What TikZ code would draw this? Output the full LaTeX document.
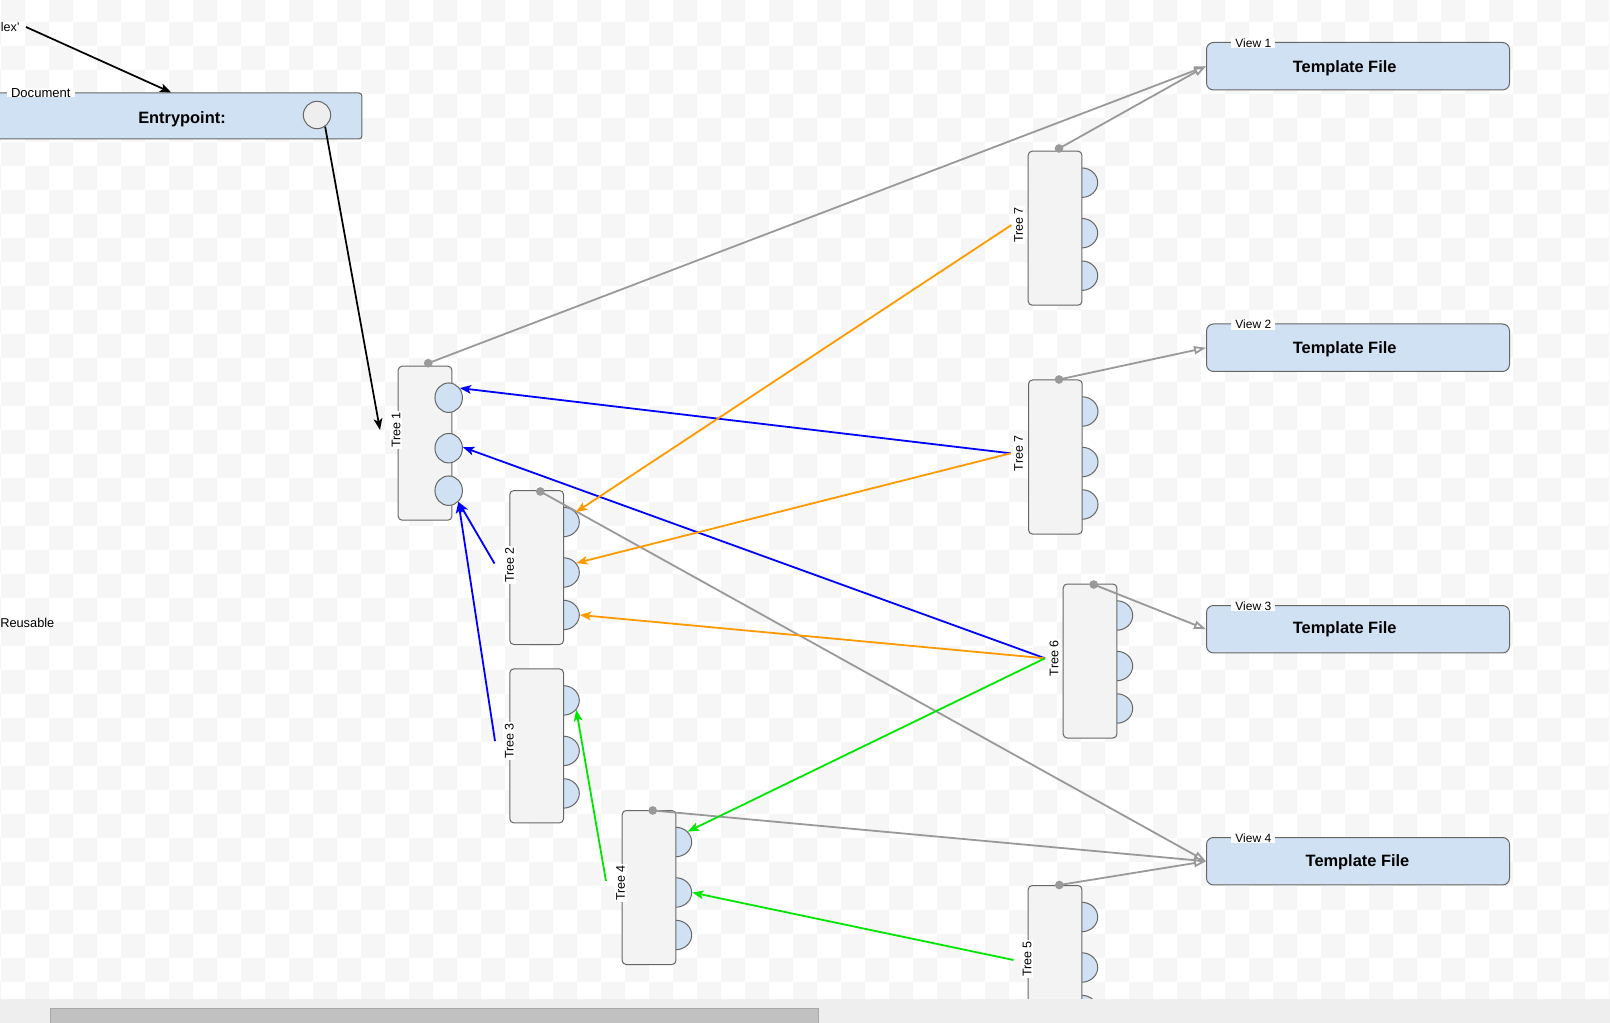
\documentclass[tikz,border=0pt]{standalone}
\usepackage{fontspec}
\setmainfont{Liberation Sans}
\usetikzlibrary{arrows.meta,shapes.geometric,calc}

\definecolor{chk}{RGB}{246,246,246}
\definecolor{edgegray}{RGB}{153,153,153}
\definecolor{boxline}{RGB}{102,102,102}
\definecolor{treefill}{RGB}{243,243,243}
\definecolor{portfill}{RGB}{207,225,242}
\definecolor{ecfill}{RGB}{238,238,238}
\definecolor{linkorange}{RGB}{255,153,0}
\definecolor{linkgreen}{RGB}{0,230,0}
\definecolor{linkblue}{RGB}{0,0,255}
\definecolor{barbg}{RGB}{238,238,238}
\definecolor{thumbfill}{RGB}{193,193,193}
\definecolor{thumbline}{RGB}{168,168,168}

\tikzset{
  treebox/.style={draw=boxline, fill=treefill, line width=0.75pt, rounded corners=3pt,
    minimum width=40.3pt, minimum height=115.5pt, inner sep=0pt, anchor=north west},
  hport/.style={ellipse, draw=boxline, fill=portfill, line width=0.75pt,
    minimum width=24pt, minimum height=22.1pt, inner sep=0pt},
  fport/.style={ellipse, draw=boxline, fill=portfill, line width=0.75pt,
    minimum width=20.6pt, minimum height=22.1pt, inner sep=0pt},
  tdot/.style={circle, fill=edgegray, minimum size=6.5pt, inner sep=0pt},
  tlab/.style={rotate=90, fill=white, inner xsep=1pt, inner ysep=1.2pt,
    font=\fontsize{9.4}{10}\selectfont},
  viewbox/.style={draw=boxline, fill=portfill, line width=0.75pt, rounded corners=5.25pt,
    minimum width=227.25pt, minimum height=35.6pt, inner sep=0pt, anchor=north west},
  viewlab/.style={fill=white, inner xsep=3pt, inner ysep=0.5pt,
    font=\fontsize{9}{10}\selectfont},
  bigtext/.style={font=\fontsize{12.3}{14}\selectfont\bfseries},
  smalltext/.style={font=\fontsize{9.6}{11}\selectfont},
  blk/.style={draw=black, line width=1.3pt, -{Stealth[length=8.5pt,width=6.5pt,inset=2pt]}},
  grlink/.style={draw=edgegray, line width=1.35pt,
    -{Triangle[open,length=9pt,width=6pt,fill=white]}},
  bllink/.style={draw=linkblue, line width=1.35pt, -{Stealth[length=8.5pt,width=6.5pt,inset=2pt]}},
  orlink/.style={draw=linkorange, line width=1.35pt, -{Stealth[length=8.5pt,width=6.5pt,inset=2pt]}},
  gnlink/.style={draw=linkgreen, line width=1.35pt, -{Stealth[length=8.5pt,width=6.5pt,inset=2pt]}},
}

% a tree container with three half-round ports on its right side
\newcommand\halftree[3]{%
  \foreach \k/\o in {1/32,2/82.5,3/125}
    \node[hport] (#1p\k) at (#2+54,#3+\o) {};
  \node[treebox] (#1) at (#2,#3) {};
}

\begin{document}
\begin{tikzpicture}[x=0.75pt,y=-0.75pt]
\useasboundingbox (0,0) rectangle (1610,1023);
\clip (0,0) rectangle (1610,1023);

% checkered canvas
\foreach \r in {0,...,42}{
  \foreach \c in {0,...,68}{
    \pgfmathtruncatemacro\pp{mod(\r+\c,2)}
    \ifnum\pp=1
      \fill[chk] (1+24*\c-24,-1.7+24*\r) rectangle (1+24*\c,22.3+24*\r);
    \fi
  }
}

% document entry
\node[anchor=west, inner sep=0pt, font=\fontsize{9.4}{10}\selectfont] (idx) at (0.5,27) {lex'};
\coordinate (idxout) at (26,27);
\node[draw=boxline, fill=portfill, line width=0.75pt, rounded corners=2.25pt,
  minimum width=286.1pt, minimum height=34.5pt, inner sep=0pt, anchor=north west] (doc) at (-20,92.5) {};
\node[fill=white, inner xsep=3pt, inner ysep=0pt, font=\fontsize{9.8}{10}\selectfont] (doclab) at (40.8,92.7) {Document};
\node[bigtext] (ept) at (182,119) {Entrypoint:};
\node[circle, draw=boxline, fill=ecfill, line width=0.75pt, minimum size=20.5pt, inner sep=0pt] (ec) at (317,115) {};
\node[smalltext, anchor=west, inner sep=0pt] (reu) at (0,623) {Reusable};

% views
\foreach \v/\t in {1/42,2/323.5,3/605,4/837}{
  \node[viewbox] (v\v) at (1206,\t) {};
  \node[viewlab] (vl\v) at (1253.3,\t+1) {View \v};
}
\node[bigtext] (tf1) at (1344.7,68) {Template File};
\node[bigtext] (tf2) at (1344.7,349.5) {Template File};
\node[bigtext] (tf3) at (1344.7,629) {Template File};
\node[bigtext] (tf4) at (1357.5,862) {Template File};

% tree 1 carries whole ports over its border
\node[treebox] (t1) at (397.7,365.7) {};
\foreach \k/\o in {1/32,2/82.5,3/125}
  \node[fport] (t1p\k) at (397.7+51,365.7+\o) {};

% the other trees
\halftree{t2}{509.3}{490}
\halftree{t3}{509.3}{668.4}
\halftree{t4}{621.7}{810}
\halftree{t5}{1027.7}{885}
\halftree{t6}{1062.7}{583.5}
\halftree{t7a}{1027.7}{150.7}
\halftree{t7b}{1028}{379.5}

% link dots on the top edges
\node[tdot] (t1d) at (428.2,363.2) {};
\node[tdot] (t2d) at (540.3,491.5) {};
\node[tdot] (t4d) at (652.7,810.5) {};
\node[tdot] (t5d) at (1059.3,885) {};
\node[tdot] (t6d) at (1093.7,584.5) {};
\node[tdot] (t7ad) at (1059,148.5) {};
\node[tdot] (t7bd) at (1059,379.5) {};

% tree captions
\node[tlab] (t1l) at (396,430) {Tree 1};
\node[tlab] (t2l) at (509.5,565) {Tree 2};
\node[tlab] (t3l) at (509.3,741) {Tree 3};
\node[tlab] (t4l) at (620.7,883) {Tree 4};
\node[tlab] (t5l) at (1027,959) {Tree 5};
\node[tlab] (t6l) at (1054,658.2) {Tree 6};
\node[tlab] (t7al) at (1018.7,225) {Tree 7};
\node[tlab] (t7bl) at (1018.5,453.3) {Tree 7};

% link end points beside the captions
\coordinate (o1) at (380,430);
\coordinate (o2) at (494.5,563.5);
\coordinate (o3) at (495,741);
\coordinate (o4) at (606,881);
\coordinate (o5) at (1013.5,960);
\coordinate (o6) at (1045,658.3);
\coordinate (o7a) at (1011.4,225);
\coordinate (o7b) at (1010.7,453.3);

% entry links
\draw[blk] (idxout) -- (doc.north);
\draw[blk] (ec.-55) -- (o1);

% views
\draw[grlink] (t1d.center) -- (v1.west);
\draw[grlink] (t7ad.center) -- (v1.west);
\draw[grlink] (t7bd.center) -- (v2.west);
\draw[grlink] (t6d.center) -- (v3.west);
\draw[grlink] (t2d.center) -- (v4.west);
\draw[grlink] (t4d.center) -- (v4.west);
\draw[grlink] (t5d.center) -- (v4.west);

% port references
\draw[bllink] (o7b) -- (t1p1.41);
\draw[bllink] (o6) -- (t1p2.4);
\draw[bllink] (o2) -- (t1p3.-49);
\draw[bllink] (o3) -- (t1p3.-49);
\draw[orlink] (o7a) -- (t2p1.38);
\draw[orlink] (o7b) -- (t2p2.36);
\draw[orlink] (o6) -- (t2p3.0);
\draw[gnlink] (o6) -- (t4p1.41);
\draw[gnlink] (o4) -- (t3p1.-36);
\draw[gnlink] (o5) -- (t4p2.0);

% scroll bar
\fill[barbg] (0,999) rectangle (1610,1023);
\filldraw[fill=thumbfill, draw=thumbline, line width=0.5pt] (50,1008) rectangle (818,1024);
\end{tikzpicture}
\end{document}
